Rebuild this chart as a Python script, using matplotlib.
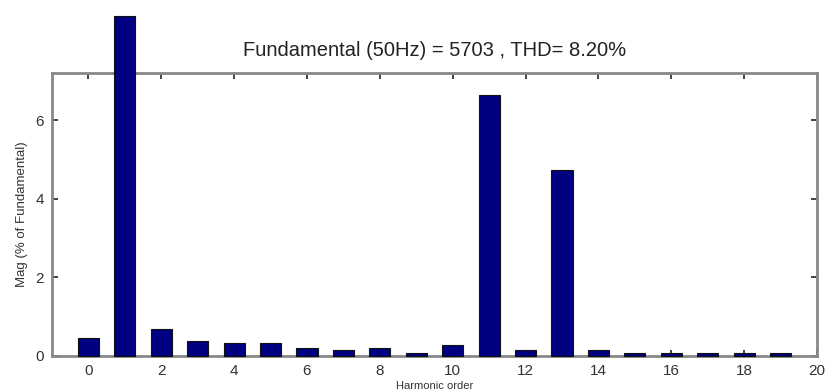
import matplotlib
matplotlib.use('Agg')
import matplotlib.pyplot as plt
import numpy as np

# harmonic spectrum, % of fundamental (fundamental bar runs off the axes)
harmonic_order = list(range(20))
magnitude = [0.45, 8.65, 0.68, 0.38, 0.33, 0.33, 0.21, 0.15, 0.2, 0.08,
             0.27, 6.64, 0.16, 4.74, 0.15, 0.07, 0.08, 0.07, 0.08, 0.07]
x_ticks = list(range(0, 21, 2))
y_ticks = [0, 2, 4, 6]
title = 'Fundamental (50Hz) = 5703 , THD= 8.20%'

plt.rcParams['font.family'] = ['Liberation Sans', 'DejaVu Sans']

fig = plt.figure(figsize=(8.26, 3.92), dpi=100)
ax = fig.add_axes([0.063, 0.092, 0.926, 0.722])

bars = ax.bar(harmonic_order, magnitude, width=0.58, color='#000080',
              edgecolor='#111111', linewidth=0.8, zorder=3)
for b in bars:
    b.set_clip_on(False)

ax.set_xlim(-1, 20)
ax.set_ylim(0, 7.2)
ax.set_xticks(x_ticks)
ax.set_yticks(y_ticks)
ax.tick_params(direction='in', top=True, right=True, length=4, width=1.2,
               color='#222222', labelsize=11, labelcolor='#333333', pad=6)

for s in ax.spines.values():
    s.set_color('#888888')
    s.set_linewidth(2)
    s.set_zorder(2)

ax.set_title(title, fontsize=14.5, color='#222222', pad=12)
ax.set_xlabel('Harmonic order', fontsize=8, color='#333333', labelpad=2)
ax.set_ylabel('Mag (% of Fundamental)', fontsize=9.5, color='#333333', labelpad=5)

plt.savefig('out.png', dpi=100)
plt.close()
